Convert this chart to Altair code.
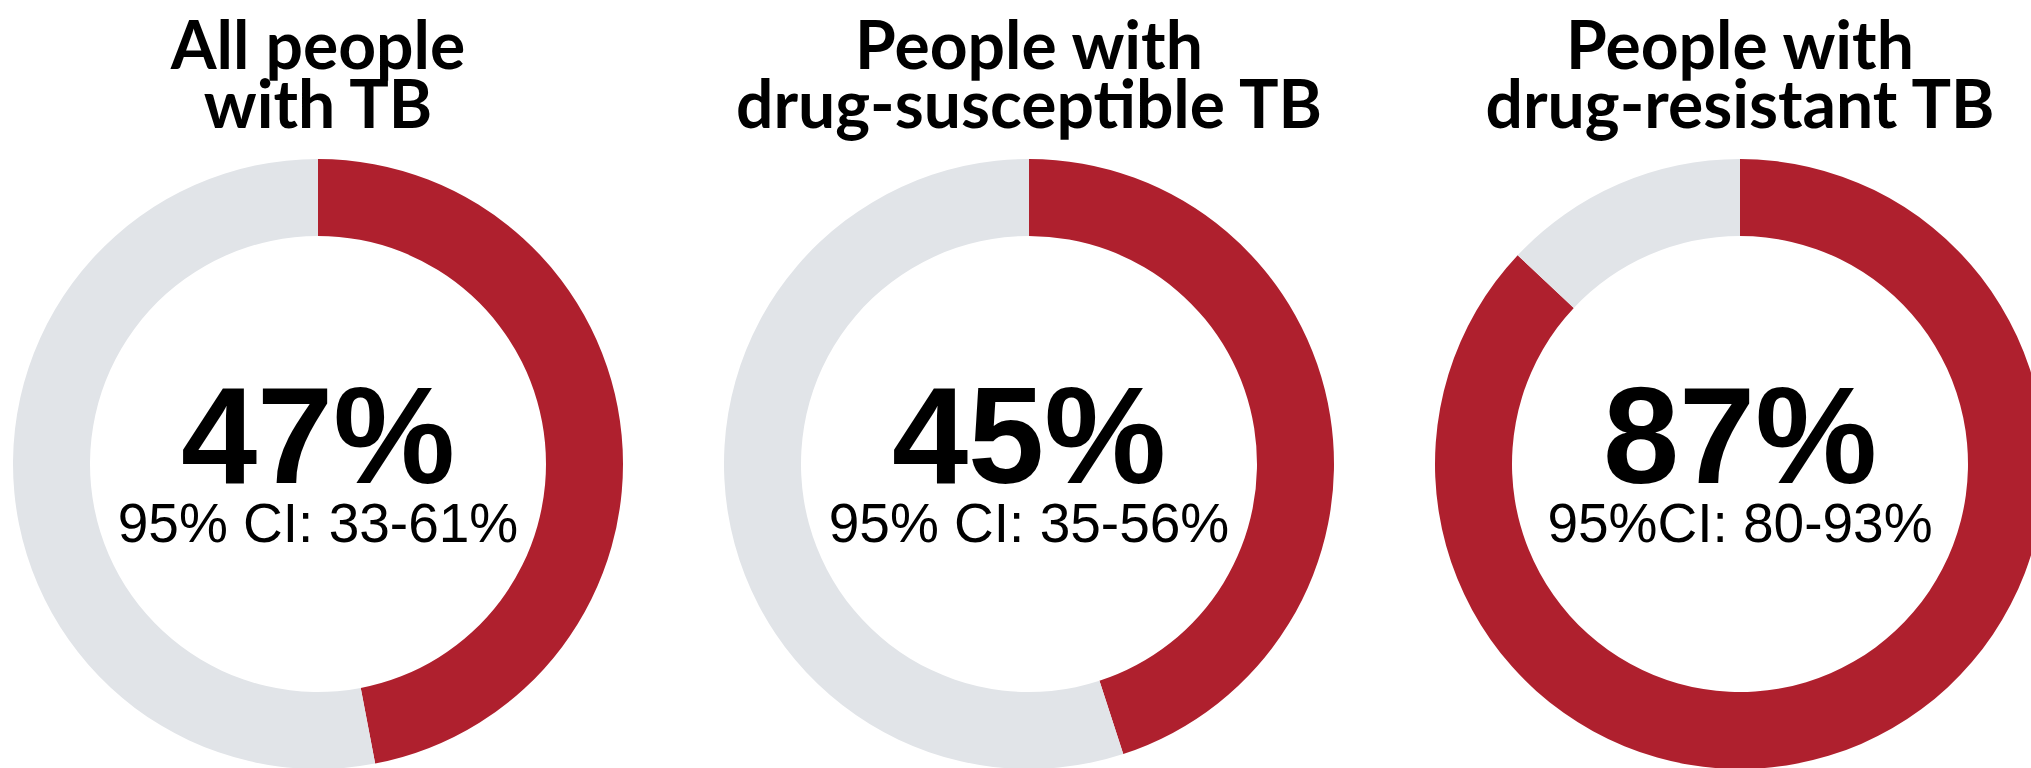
import altair as alt
import pandas as pd
import math

# ---- data ----
groups = ["All people with TB", "People with drug-susceptible TB", "People with drug-resistant TB"]
titles = ["All people\nwith TB", "People with\ndrug-susceptible TB", "People with\ndrug-resistant TB"]
percent = [47, 45, 87]
pct_labels = ["47%", "45%", "87%"]
ci_labels = ["95% CI: 33-61%", "95% CI: 35-56%", "95%CI: 80-93%"]

RED = "#AF202E"
GRAY = "#E1E4E8"

rows = []
for g, p in zip(groups, percent):
    rows.append({"group": g, "start": 0, "end": p, "part": "share"})
    rows.append({"group": g, "start": p, "end": 100, "part": "rest"})
seg = pd.DataFrame(rows)

labels = pd.DataFrame({"group": groups, "title": titles, "pct": pct_labels, "ci": ci_labels})

xscale = alt.Scale(domain=groups, range=[318, 1740], type="point", padding=0)
xenc = alt.X("group:N", scale=xscale, axis=None, sort=groups)

arcs = alt.Chart(seg).mark_arc(radius=305, radius2=228, stroke=None).encode(
    x=xenc,
    y=alt.value(464),
    theta=alt.Theta("start:Q", scale=alt.Scale(domain=[0, 100], range=[0, 2 * math.pi])),
    theta2="end:Q",
    color=alt.Color("part:N", scale=alt.Scale(domain=["share", "rest"], range=[RED, GRAY]), legend=None),
)

title_txt = alt.Chart(labels).mark_text(
    font="Lato", fontWeight="bold", fontSize=66, lineBreak="\n", lineHeight=59,
    baseline="alphabetic", align="center", color="#000000",
).encode(x=xenc, y=alt.value(69), text="title:N")

pct_txt = alt.Chart(labels).mark_text(
    font="Liberation Sans", fontWeight="bold", fontSize=137,
    baseline="alphabetic", align="center", color="#000000",
).encode(x=xenc, y=alt.value(483), text="pct:N")

ci_txt = alt.Chart(labels).mark_text(
    font="Liberation Sans", fontSize=55,
    baseline="alphabetic", align="center", color="#000000",
).encode(x=xenc, y=alt.value(542), text="ci:N")

chart = alt.layer(arcs, title_txt, pct_txt, ci_txt).properties(
    width=2031, height=768, padding=0, autosize=alt.AutoSizeParams(type="none"),
    background="#FFFFFF",
).configure_view(stroke=None)

chart.save("out.html", embed_options={"renderer": "svg", "actions": False})
